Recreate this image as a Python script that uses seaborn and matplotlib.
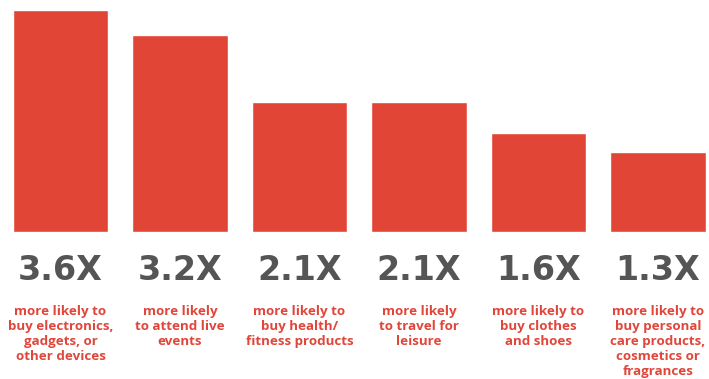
import matplotlib
matplotlib.use("Agg")
import matplotlib.pyplot as plt
import matplotlib.transforms as mtransforms
import pandas as pd
import seaborn as sns

VALUES = [3.6, 3.2, 2.1, 2.1, 1.6, 1.3]
VALUE_LABELS = ["3.6X", "3.2X", "2.1X", "2.1X", "1.6X", "1.3X"]
DESCRIPTIONS = [
    "more likely to\nbuy electronics,\ngadgets, or\nother devices",
    "more likely\nto attend live\nevents",
    "more likely to\nbuy health/\nfitness products",
    "more likely\nto travel for\nleisure",
    "more likely to\nbuy clothes\nand shoes",
    "more likely to\nbuy personal\ncare products,\ncosmetics or\nfragrances",
]

BAR_COLOR = "#E04535"
TEXT_RED = "#E0463A"
NUM_GRAY = "#555555"


def main() -> None:
    sns.set_theme(style="white")
    plt.rcParams["font.family"] = ["Open Sans", "DejaVu Sans"]

    df = pd.DataFrame({"cat": [str(i) for i in range(len(VALUES))],
                       "value": VALUES})

    fig = plt.figure(figsize=(7.09, 3.79), dpi=100)
    ax = fig.add_axes((0, 147 / 379, 1, 232 / 379))
    sns.barplot(data=df, x="cat", y="value", color=BAR_COLOR,
                saturation=1, width=0.8, ax=ax)

    ax.set_xlim(-60.5 / 119.5, (709 - 60.5) / 119.5)
    ax.set_ylim(0, 3.76)
    ax.axis("off")

    trans = mtransforms.blended_transform_factory(ax.transData, fig.transFigure)
    for i, (num, desc) in enumerate(zip(VALUE_LABELS, DESCRIPTIONS)):
        ax.text(i, 1 - 270 / 379, num, transform=trans, ha="center",
                va="center", fontsize=24, fontweight="bold", color=NUM_GRAY,
                family="DejaVu Sans")
        ax.text(i, 1 - 305 / 379, desc, transform=trans, ha="center",
                va="top", fontsize=9.6, fontweight="bold", color=TEXT_RED,
                linespacing=1.2)

    fig.savefig("out.png", dpi=100)
    plt.close(fig)


if __name__ == "__main__":
    main()
